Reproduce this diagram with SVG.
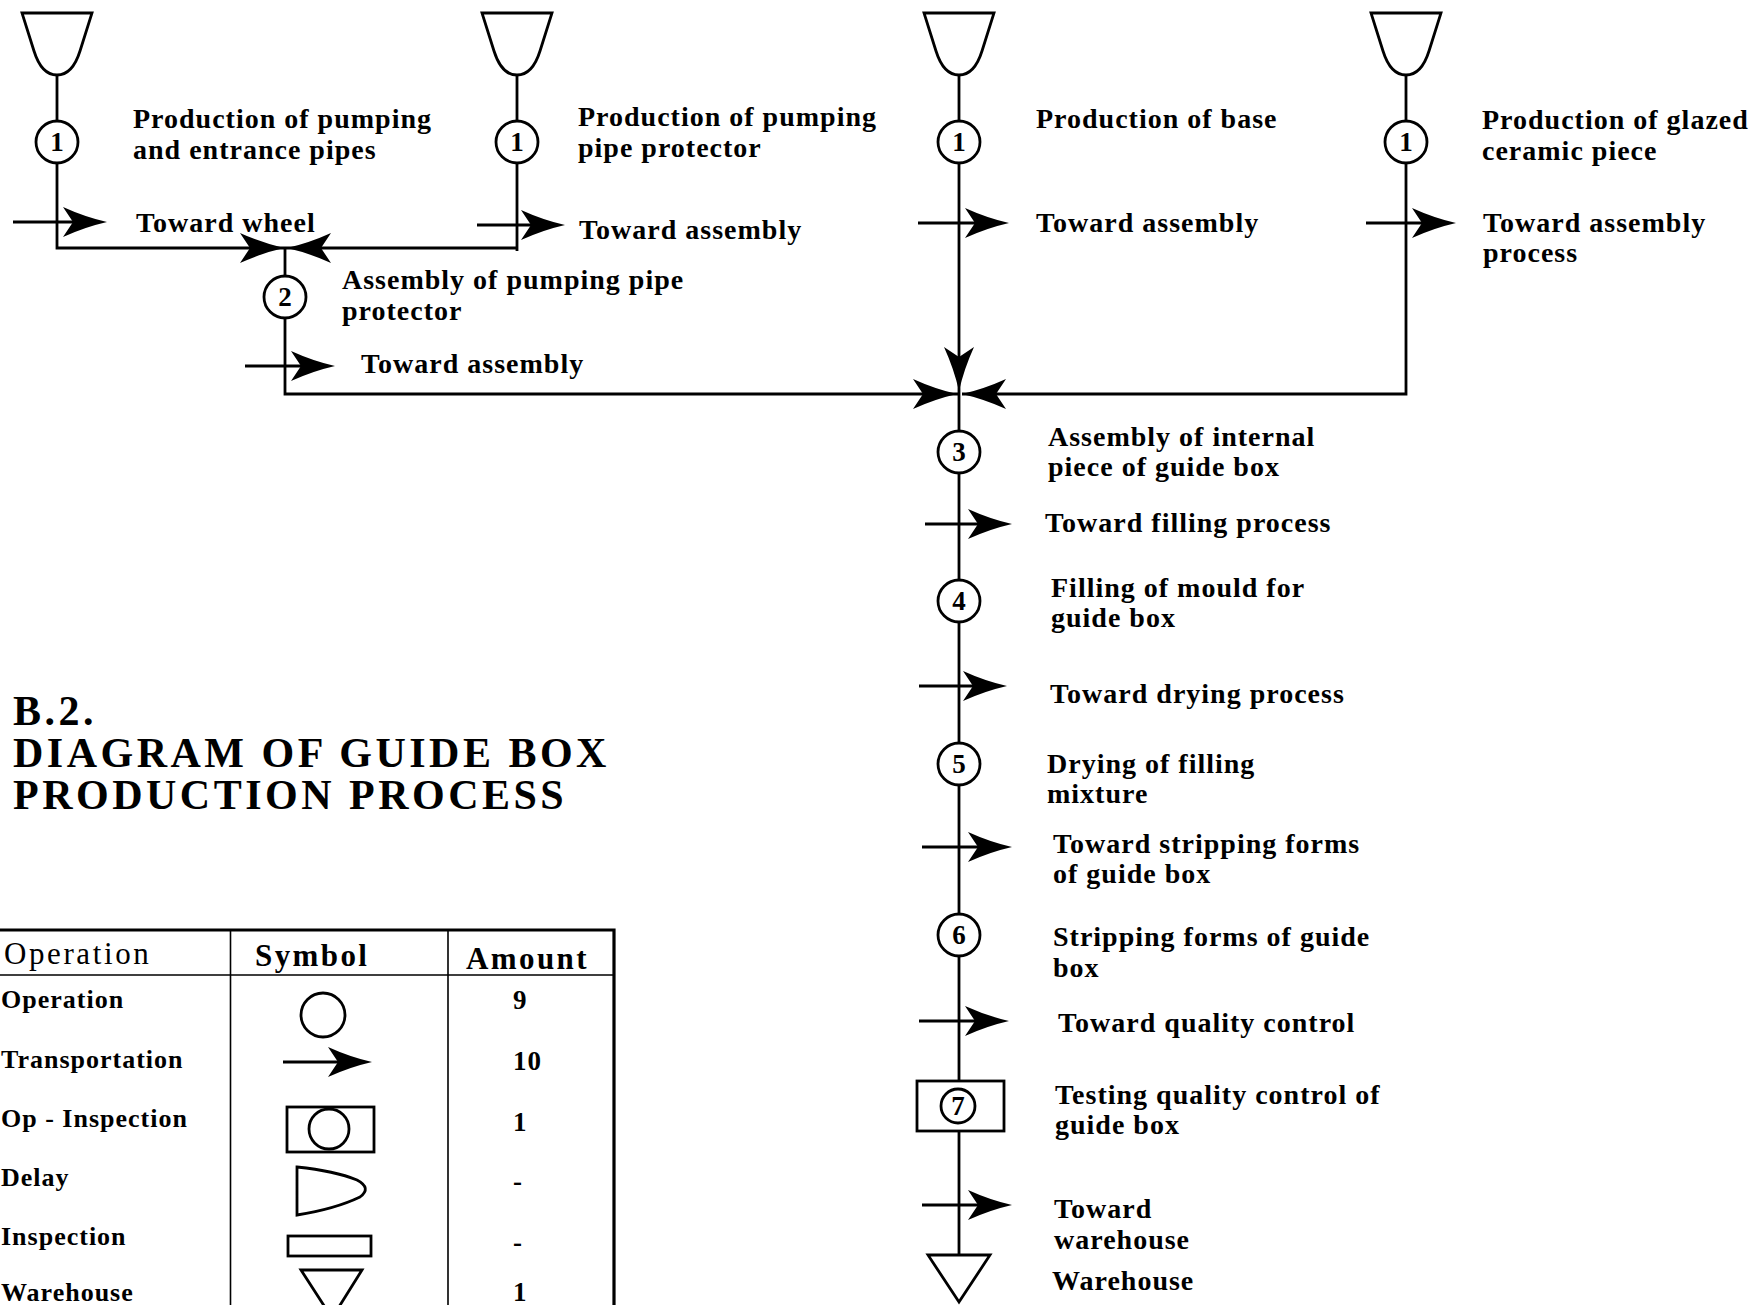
<svg xmlns="http://www.w3.org/2000/svg" xmlns:xlink="http://www.w3.org/1999/xlink" width="1764" height="1305" viewBox="0 0 1764 1305">
<style>
.ln{stroke:#000;stroke-width:2.8;fill:none}
.sym{stroke:#000;stroke-width:2.8;fill:#fff}
.hd{fill:#000;stroke:none}
.t{font-family:"Liberation Serif","Times New Roman",serif;font-weight:bold;font-size:28px;letter-spacing:1px;fill:#000}
.n{font-family:"Liberation Serif","Times New Roman",serif;font-weight:bold;font-size:27px;fill:#000;text-anchor:middle}
.ttl{font-family:"Liberation Serif","Times New Roman",serif;font-weight:bold;font-size:42px;letter-spacing:3.5px;fill:#000}
.th{font-family:"Liberation Serif","Times New Roman",serif;font-size:31px;letter-spacing:2.6px;fill:#000}
.thb{font-family:"Liberation Serif","Times New Roman",serif;font-weight:bold;font-size:31px;letter-spacing:2.4px;fill:#000}
.lg{font-family:"Liberation Serif","Times New Roman",serif;font-weight:bold;font-size:26px;letter-spacing:1px;fill:#000}
.am{font-family:"Liberation Serif","Times New Roman",serif;font-weight:bold;font-size:27px;letter-spacing:1px;fill:#000}
.tb{stroke:#000;stroke-width:1.6;fill:none}
.tbk{stroke:#000;stroke-width:3.2;fill:none}
</style>
<defs>
<path id="ah" class="hd" d="M0,0 Q-22,-5 -44,-15 L-34,0 L-44,15 Q-22,5 0,0 Z"/>
<path id="cup" class="sym" d="M-35,0 H35 L23,38 C18,54 10,62 0,62 C-10,62 -18,54 -23,38 Z"/>
<circle id="op" class="sym" r="21"/>
</defs>

<rect width="1764" height="1305" fill="#fff"/>

<g id="connectors">
<path class="ln" d="M57,75 V121 M57,163 V248 H517"/>
<path class="ln" d="M517,75 V121 M517,163 V251"/>
<path class="ln" d="M285,248 V276 M285,318 V394 H959"/>
<path class="ln" d="M959,75 V121 M959,163 V394"/>
<path class="ln" d="M1406,75 V121 M1406,163 V394 H962"/>
<path class="ln" d="M959,394 V431 M959,473 V580 M959,622 V743 M959,785 V914 M959,956 V1081 M959,1131 V1255"/>
<use xlink:href="#ah" transform="translate(284,248)"/>
<use xlink:href="#ah" transform="translate(287,248) rotate(180)"/>
<use xlink:href="#ah" transform="translate(957,394)"/>
<use xlink:href="#ah" transform="translate(962,394) rotate(180)"/>
<use xlink:href="#ah" transform="translate(959,391) rotate(90)"/>
</g>

<g id="src1"><use xlink:href="#cup" transform="translate(57,13)"/></g>
<g id="src2"><use xlink:href="#cup" transform="translate(517,13)"/></g>
<g id="src3"><use xlink:href="#cup" transform="translate(959,13)"/></g>
<g id="src4"><use xlink:href="#cup" transform="translate(1406,13)"/></g>

<g id="op1a"><use xlink:href="#op" x="57" y="142"/><text class="n" x="57" y="151">1</text>
<text class="t" x="133" y="128">Production of pumping</text><text class="t" x="133" y="159">and entrance pipes</text></g>
<g id="tr1a"><path class="ln" d="M13,222 H75"/><use xlink:href="#ah" transform="translate(107,222)"/><text class="t" x="136" y="232">Toward wheel</text></g>

<g id="op1b"><use xlink:href="#op" x="517" y="142"/><text class="n" x="517" y="151">1</text>
<text class="t" x="578" y="126">Production of pumping</text><text class="t" x="578" y="157">pipe protector</text></g>
<g id="tr1b"><path class="ln" d="M477,225 H535"/><use xlink:href="#ah" transform="translate(565,225)"/><text class="t" x="579" y="239">Toward assembly</text></g>

<g id="op2"><use xlink:href="#op" x="285" y="297"/><text class="n" x="285" y="306">2</text>
<text class="t" x="342" y="289">Assembly of pumping pipe</text><text class="t" x="342" y="320">protector</text></g>
<g id="tr2"><path class="ln" d="M245,366 H303"/><use xlink:href="#ah" transform="translate(335,366)"/><text class="t" x="361" y="373">Toward assembly</text></g>

<g id="op1c"><use xlink:href="#op" x="959" y="142"/><text class="n" x="959" y="151">1</text>
<text class="t" x="1036" y="128">Production of base</text></g>
<g id="tr1c"><path class="ln" d="M918,223 H977"/><use xlink:href="#ah" transform="translate(1009,223)"/><text class="t" x="1036" y="232">Toward assembly</text></g>

<g id="op1d"><use xlink:href="#op" x="1406" y="142"/><text class="n" x="1406" y="151">1</text>
<text class="t" x="1482" y="129">Production of glazed</text><text class="t" x="1482" y="160">ceramic piece</text></g>
<g id="tr1d"><path class="ln" d="M1366,223 H1424"/><use xlink:href="#ah" transform="translate(1456,223)"/><text class="t" x="1483" y="232">Toward assembly</text><text class="t" x="1483" y="262">process</text></g>

<g id="op3"><use xlink:href="#op" x="959" y="452"/><text class="n" x="959" y="461">3</text>
<text class="t" x="1048" y="446">Assembly of internal</text><text class="t" x="1048" y="476">piece of guide box</text></g>
<g id="tr3"><path class="ln" d="M925,524 H980"/><use xlink:href="#ah" transform="translate(1012,524)"/><text class="t" x="1045" y="532">Toward filling process</text></g>

<g id="op4"><use xlink:href="#op" x="959" y="601"/><text class="n" x="959" y="610">4</text>
<text class="t" x="1051" y="597">Filling of mould for</text><text class="t" x="1051" y="627">guide box</text></g>
<g id="tr4"><path class="ln" d="M919,686 H975"/><use xlink:href="#ah" transform="translate(1007,686)"/><text class="t" x="1050" y="703">Toward drying process</text></g>

<g id="op5"><use xlink:href="#op" x="959" y="764"/><text class="n" x="959" y="773">5</text>
<text class="t" x="1047" y="773">Drying of filling</text><text class="t" x="1047" y="803">mixture</text></g>
<g id="tr5"><path class="ln" d="M922,847 H980"/><use xlink:href="#ah" transform="translate(1012,847)"/><text class="t" x="1053" y="853">Toward stripping forms</text><text class="t" x="1053" y="883">of guide box</text></g>

<g id="op6"><use xlink:href="#op" x="959" y="935"/><text class="n" x="959" y="944">6</text>
<text class="t" x="1053" y="946">Stripping forms of guide</text><text class="t" x="1053" y="977">box</text></g>
<g id="tr6"><path class="ln" d="M919,1021 H977"/><use xlink:href="#ah" transform="translate(1009,1021)"/><text class="t" x="1058" y="1032">Toward quality control</text></g>

<g id="opinsp7"><rect class="sym" x="917" y="1081" width="87" height="50"/><circle class="sym" cx="958" cy="1106" r="17"/><text class="n" x="958" y="1115" font-size="24">7</text>
<text class="t" x="1055" y="1104">Testing quality control of</text><text class="t" x="1055" y="1134">guide box</text></g>
<g id="tr7"><path class="ln" d="M922,1205 H980"/><use xlink:href="#ah" transform="translate(1012,1205)"/><text class="t" x="1054" y="1218">Toward</text><text class="t" x="1054" y="1249">warehouse</text></g>

<g id="warehouse"><path class="sym" d="M928,1255 H990 L959,1302 Z"/><text class="t" x="1052" y="1290">Warehouse</text></g>

<g id="title">
<text class="ttl" x="13" y="725">B.2.</text>
<text class="ttl" x="13" y="767">DIAGRAM OF GUIDE BOX</text>
<text class="ttl" x="13" y="809">PRODUCTION PROCESS</text>
</g>

<g id="legend">
<path class="tbk" d="M0,930 H614 V1305"/>
<path class="tb" d="M0,975 H614 M230.5,930 V1305 M448,930 V1305"/>
<text class="th" x="4" y="964">Operation</text>
<text class="thb" x="255" y="966">Symbol</text>
<text class="thb" x="466" y="969">Amount</text>
<text class="lg" x="1" y="1008">Operation</text>
<text class="lg" x="1" y="1068">Transportation</text>
<text class="lg" x="1" y="1127">Op - Inspection</text>
<text class="lg" x="1" y="1186">Delay</text>
<text class="lg" x="1" y="1245">Inspection</text>
<text class="lg" x="1" y="1301">Warehouse</text>
<circle class="sym" cx="323" cy="1015" r="22"/>
<path class="ln" d="M283,1062 H340"/><use xlink:href="#ah" transform="translate(372,1062)"/>
<rect class="sym" x="287" y="1107" width="87" height="45"/><circle class="sym" cx="329" cy="1129" r="20"/>
<path class="sym" d="M297,1167 Q335,1171 357,1180 Q372,1188 360,1197 Q335,1209 297,1215 Z"/>
<rect class="sym" x="288" y="1236" width="83" height="20"/>
<path class="sym" d="M301,1270 H362 L332,1318 Z"/>
<text class="am" x="513" y="1009">9</text>
<text class="am" x="513" y="1070">10</text>
<text class="am" x="513" y="1131">1</text>
<text class="am" x="513" y="1190">-</text>
<text class="am" x="513" y="1251">-</text>
<text class="am" x="513" y="1301">1</text>
</g>
</svg>
